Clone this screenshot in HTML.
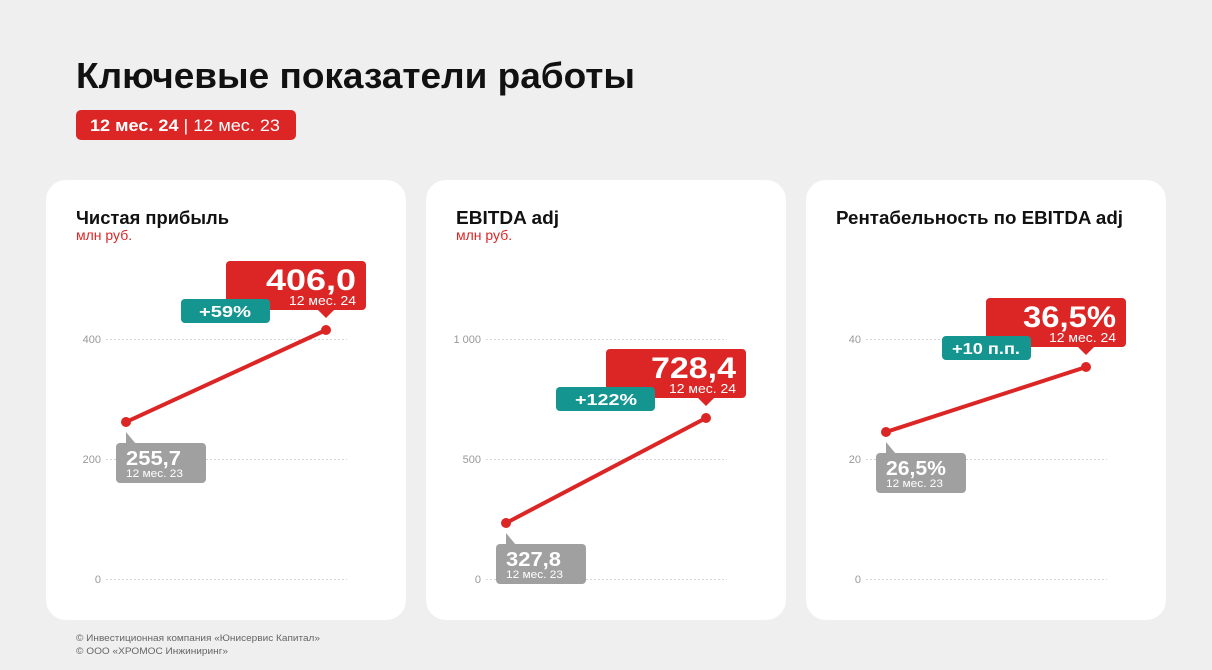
<!DOCTYPE html>
<html><head><meta charset="utf-8"><style>
html,body{margin:0;padding:0;background:#efefef;width:1212px;height:670px;overflow:hidden}
svg{display:block;font-family:"Liberation Sans",sans-serif}
</style></head><body>
<svg width="1212" height="670" viewBox="0 0 1212 670" xmlns="http://www.w3.org/2000/svg">
<rect width="1212" height="670" fill="#efefef"/>
<text x="76" y="88" font-size="36" font-weight="bold" fill="#111" textLength="559" lengthAdjust="spacingAndGlyphs">Ключевые показатели работы</text>
<rect x="76" y="110" width="220" height="30" rx="5" fill="#dc2626"/>
<text x="90" y="131" font-size="17" fill="#fff" textLength="190" lengthAdjust="spacingAndGlyphs"><tspan font-weight="bold">12 мес. 24</tspan> | 12 мес. 23</text>

<rect x="46" y="180" width="360" height="440" rx="20" fill="#fff"/>
<rect x="426" y="180" width="360" height="440" rx="20" fill="#fff"/>
<rect x="806" y="180" width="360" height="440" rx="20" fill="#fff"/>

<g font-size="11" fill="#999" text-anchor="end">
<text x="101" y="343">400</text><text x="101" y="463">200</text><text x="101" y="583">0</text>
<text x="481" y="343">1 000</text><text x="481" y="463">500</text><text x="481" y="583">0</text>
<text x="861" y="343">40</text><text x="861" y="463">20</text><text x="861" y="583">0</text>
</g>
<g stroke="#d6d6d6" stroke-width="1" stroke-dasharray="2,2">
<line x1="106" y1="339.5" x2="347" y2="339.5"/><line x1="106" y1="459.5" x2="347" y2="459.5"/><line x1="106" y1="579.5" x2="347" y2="579.5"/>
<line x1="486" y1="339.5" x2="727" y2="339.5"/><line x1="486" y1="459.5" x2="727" y2="459.5"/><line x1="486" y1="579.5" x2="727" y2="579.5"/>
<line x1="866" y1="339.5" x2="1107" y2="339.5"/><line x1="866" y1="459.5" x2="1107" y2="459.5"/><line x1="866" y1="579.5" x2="1107" y2="579.5"/>
</g>

<text x="76" y="224" font-size="18" font-weight="bold" fill="#111" textLength="153" lengthAdjust="spacingAndGlyphs">Чистая прибыль</text>
<text x="76" y="240" font-size="14" fill="#dc2626">млн руб.</text>
<text x="456" y="224" font-size="18" font-weight="bold" fill="#111" textLength="103" lengthAdjust="spacingAndGlyphs">EBITDA adj</text>
<text x="456" y="240" font-size="14" fill="#dc2626">млн руб.</text>
<text x="836" y="224" font-size="18" font-weight="bold" fill="#111" textLength="287" lengthAdjust="spacingAndGlyphs">Рентабельность по EBITDA adj</text>

<!-- Panel 1 -->
<line x1="126" y1="422" x2="326" y2="330" stroke="#dc2626" stroke-width="4"/>
<circle cx="126" cy="422" r="5" fill="#dc2626"/><circle cx="326" cy="330" r="5" fill="#dc2626"/>
<rect x="226" y="261" width="140" height="49" rx="4" fill="#dc2626"/>
<polygon points="318,310 334,310 326,318" fill="#dc2626"/>
<text x="266" y="290" font-size="30" font-weight="bold" fill="#fff" textLength="90" lengthAdjust="spacingAndGlyphs">406,0</text>
<text x="289" y="305" font-size="13" fill="#fff" textLength="67" lengthAdjust="spacingAndGlyphs">12 мес. 24</text>
<rect x="181" y="299" width="89" height="24" rx="4" fill="#14958f"/>
<text x="199" y="317" font-size="16" font-weight="bold" fill="#fff" textLength="52" lengthAdjust="spacingAndGlyphs">+59%</text>
<rect x="116" y="443" width="90" height="40" rx="4" fill="#a0a0a0"/>
<polygon points="126,432 126,444 136,444" fill="#a0a0a0"/>
<text x="126" y="465" font-size="20" font-weight="bold" fill="#fff" textLength="55" lengthAdjust="spacingAndGlyphs">255,7</text>
<text x="126" y="477" font-size="11" fill="#fff" textLength="57" lengthAdjust="spacingAndGlyphs">12 мес. 23</text>

<!-- Panel 2 -->
<line x1="506" y1="523" x2="706" y2="418" stroke="#dc2626" stroke-width="4"/>
<circle cx="506" cy="523" r="5" fill="#dc2626"/><circle cx="706" cy="418" r="5" fill="#dc2626"/>
<rect x="606" y="349" width="140" height="49" rx="4" fill="#dc2626"/>
<polygon points="698,398 714,398 706,406" fill="#dc2626"/>
<text x="651" y="378" font-size="30" font-weight="bold" fill="#fff" textLength="85" lengthAdjust="spacingAndGlyphs">728,4</text>
<text x="669" y="393" font-size="13" fill="#fff" textLength="67" lengthAdjust="spacingAndGlyphs">12 мес. 24</text>
<rect x="556" y="387" width="99" height="24" rx="4" fill="#14958f"/>
<text x="575" y="405" font-size="16" font-weight="bold" fill="#fff" textLength="62" lengthAdjust="spacingAndGlyphs">+122%</text>
<rect x="496" y="544" width="90" height="40" rx="4" fill="#a0a0a0"/>
<polygon points="506,533 506,545 516,545" fill="#a0a0a0"/>
<text x="506" y="566" font-size="20" font-weight="bold" fill="#fff" textLength="55" lengthAdjust="spacingAndGlyphs">327,8</text>
<text x="506" y="578" font-size="11" fill="#fff" textLength="57" lengthAdjust="spacingAndGlyphs">12 мес. 23</text>

<!-- Panel 3 -->
<line x1="886" y1="432" x2="1086" y2="367" stroke="#dc2626" stroke-width="4"/>
<circle cx="886" cy="432" r="5" fill="#dc2626"/><circle cx="1086" cy="367" r="5" fill="#dc2626"/>
<rect x="986" y="298" width="140" height="49" rx="4" fill="#dc2626"/>
<polygon points="1078,347 1094,347 1086,355" fill="#dc2626"/>
<text x="1023" y="327" font-size="30" font-weight="bold" fill="#fff" textLength="93" lengthAdjust="spacingAndGlyphs">36,5%</text>
<text x="1049" y="342" font-size="13" fill="#fff" textLength="67" lengthAdjust="spacingAndGlyphs">12 мес. 24</text>
<rect x="942" y="336" width="89" height="24" rx="4" fill="#14958f"/>
<text x="952" y="354" font-size="16" font-weight="bold" fill="#fff" textLength="68" lengthAdjust="spacingAndGlyphs">+10 п.п.</text>
<rect x="876" y="453" width="90" height="40" rx="4" fill="#a0a0a0"/>
<polygon points="886,442 886,454 896,454" fill="#a0a0a0"/>
<text x="886" y="475" font-size="20" font-weight="bold" fill="#fff" textLength="60" lengthAdjust="spacingAndGlyphs">26,5%</text>
<text x="886" y="487" font-size="11" fill="#fff" textLength="57" lengthAdjust="spacingAndGlyphs">12 мес. 23</text>

<text x="76" y="641" font-size="9" fill="#666" textLength="244" lengthAdjust="spacingAndGlyphs">© Инвестиционная компания «Юнисервис Капитал»</text>
<text x="76" y="654" font-size="9" fill="#666" textLength="152" lengthAdjust="spacingAndGlyphs">© ООО «ХРОМОС Инжиниринг»</text>
</svg>
</body></html>
